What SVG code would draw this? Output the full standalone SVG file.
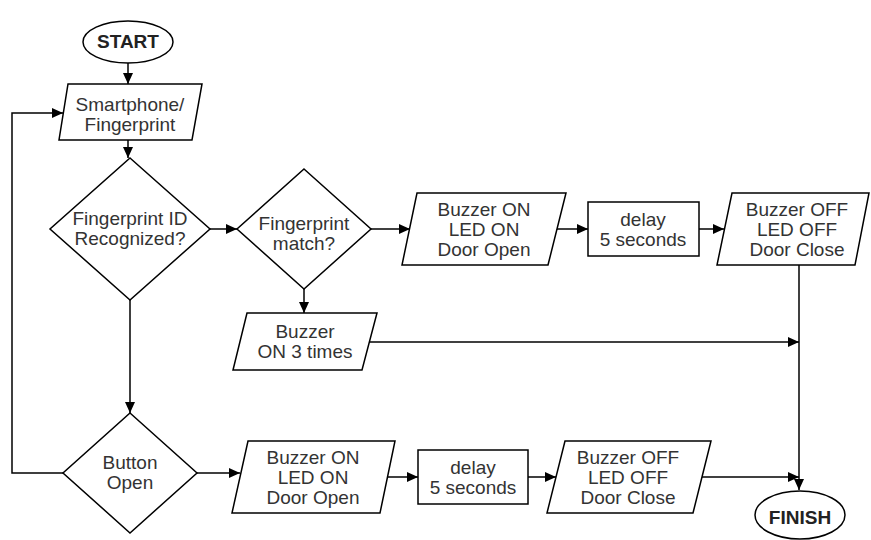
<svg xmlns="http://www.w3.org/2000/svg" width="871" height="540" viewBox="0 0 871 540">
<defs>
<style>
.s{fill:#fff;stroke:#000;stroke-width:1.5}
.t{font-family:"Liberation Sans",Arial,sans-serif;font-size:19px;fill:#333;text-anchor:middle}
.b{font-weight:bold;fill:#222}
.c{fill:none;stroke:#000;stroke-width:1.5}
</style>
<marker id="a" markerUnits="userSpaceOnUse" markerWidth="11" markerHeight="10" refX="11" refY="5" orient="auto"><path d="M0,0 L11,5 L0,10 z" fill="#000"/></marker>
</defs>
<rect width="871" height="540" fill="#fff"/>
<g id="connectors">
<path class="c" d="M128,63 V84" marker-end="url(#a)"/>
<path class="c" d="M128,140 V158" marker-end="url(#a)"/>
<path class="c" d="M63,473 H12 V113 H63" marker-end="url(#a)"/>
<path class="c" d="M210,229 H237" marker-end="url(#a)"/>
<path class="c" d="M371,229 H410" marker-end="url(#a)"/>
<path class="c" d="M557,229 H588" marker-end="url(#a)"/>
<path class="c" d="M699,229 H724" marker-end="url(#a)"/>
<path class="c" d="M304,289 V313" marker-end="url(#a)"/>
<path class="c" d="M369,342 H799" marker-end="url(#a)"/>
<path class="c" d="M799,265 V490" marker-end="url(#a)"/>
<path class="c" d="M130,300 V413" marker-end="url(#a)"/>
<path class="c" d="M197,473 H240" marker-end="url(#a)"/>
<path class="c" d="M388,477 H418" marker-end="url(#a)"/>
<path class="c" d="M528,477 H556" marker-end="url(#a)"/>
<path class="c" d="M702,477 H799" marker-end="url(#a)"/>
</g>
<g id="start"><ellipse class="s" cx="128" cy="42" rx="45" ry="21"/><text class="t b" x="128" y="48">START</text></g>
<g id="input"><polygon class="s" points="68,84 202,84 192,140 59,140"/><text class="t" x="130" y="111">Smartphone/</text><text class="t" x="130" y="131">Fingerprint</text></g>
<g id="d1"><polygon class="s" points="130,158 210,229 130,300 50,229"/><text class="t" x="130" y="225">Fingerprint ID</text><text class="t" x="130" y="245">Recognized?</text></g>
<g id="d2"><polygon class="s" points="304,169 371,229 304,289 237,229"/><text class="t" x="304" y="230">Fingerprint</text><text class="t" x="304" y="250">match?</text></g>
<g id="on1"><polygon class="s" points="417,193 566,193 548,265 402,265"/><text class="t" x="484" y="216">Buzzer ON</text><text class="t" x="484" y="236">LED ON</text><text class="t" x="484" y="256">Door Open</text></g>
<g id="delay1"><rect class="s" x="588" y="202" width="111" height="54"/><text class="t" x="643" y="226">delay</text><text class="t" x="643" y="246">5 seconds</text></g>
<g id="off1"><polygon class="s" points="732,193 869,193 855,265 717,265"/><text class="t" x="797" y="216">Buzzer OFF</text><text class="t" x="797" y="236">LED OFF</text><text class="t" x="797" y="256">Door Close</text></g>
<g id="buzz3"><polygon class="s" points="247,313 377,313 362,370 233,370"/><text class="t" x="305" y="338">Buzzer</text><text class="t" x="305" y="358">ON 3 times</text></g>
<g id="d3"><polygon class="s" points="130,413 197,473 130,533 63,473"/><text class="t" x="130" y="469">Button</text><text class="t" x="130" y="489">Open</text></g>
<g id="on2"><polygon class="s" points="248,441 395,441 380,513 232,513"/><text class="t" x="313" y="464">Buzzer ON</text><text class="t" x="313" y="484">LED ON</text><text class="t" x="313" y="504">Door Open</text></g>
<g id="delay2"><rect class="s" x="418" y="450" width="110" height="54"/><text class="t" x="473" y="474">delay</text><text class="t" x="473" y="494">5 seconds</text></g>
<g id="off2"><polygon class="s" points="565,441 711,441 693,513 547,513"/><text class="t" x="628" y="464">Buzzer OFF</text><text class="t" x="628" y="484">LED OFF</text><text class="t" x="628" y="504">Door Close</text></g>
<g id="finish"><ellipse class="s" cx="800" cy="515" rx="45" ry="24"/><text class="t b" x="800" y="524">FINISH</text></g>
</svg>
